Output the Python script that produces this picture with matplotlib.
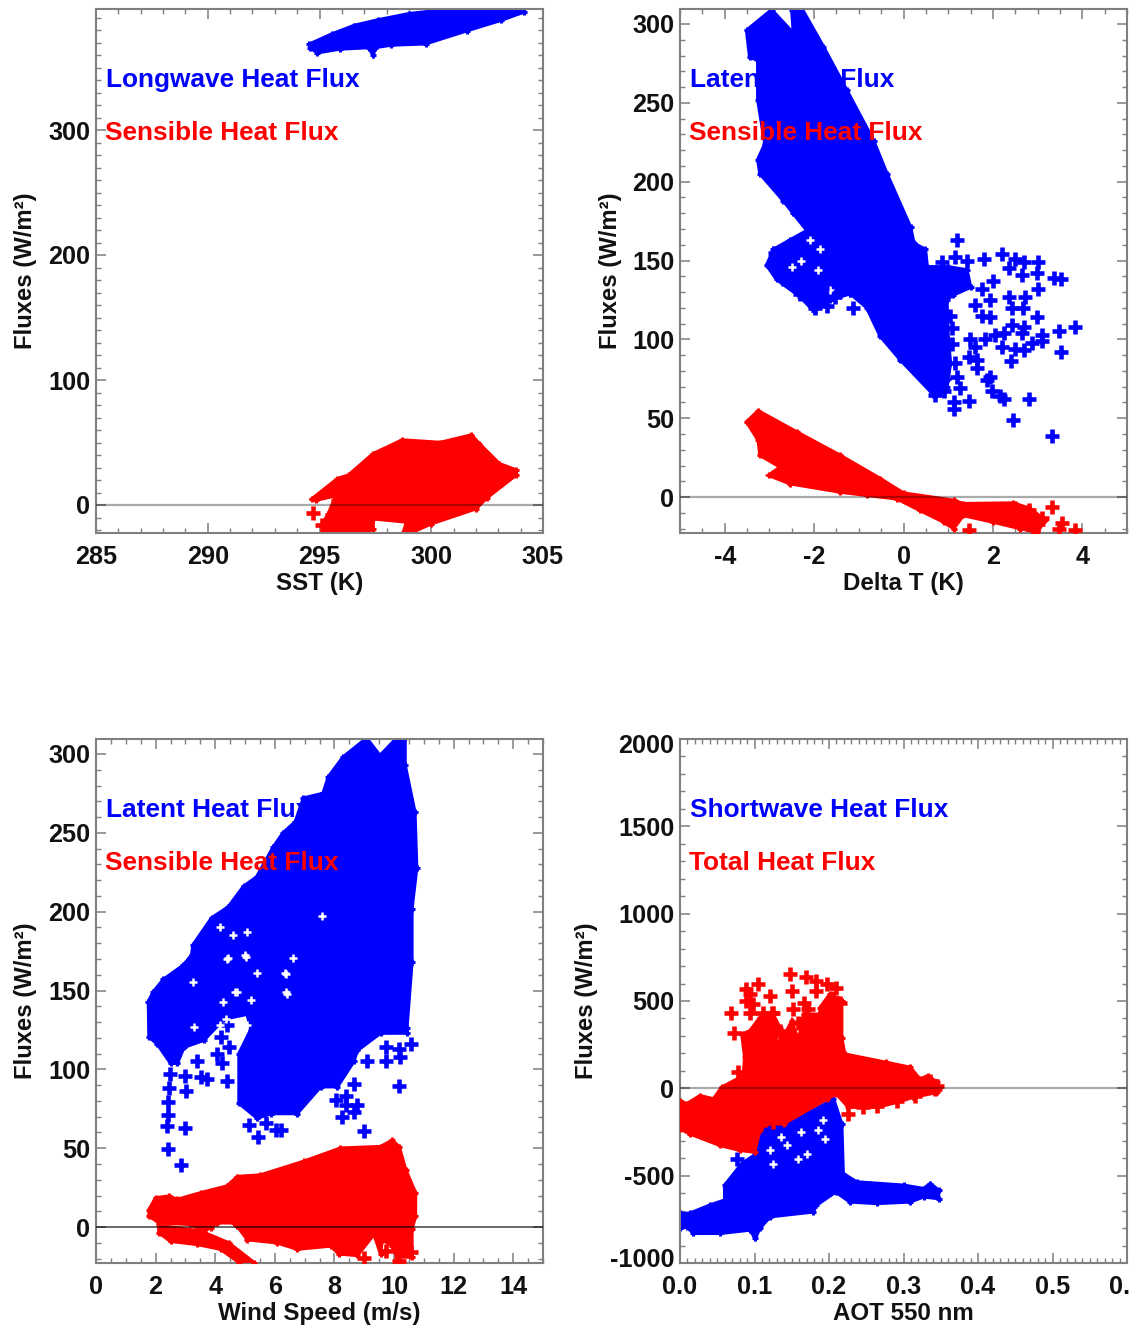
import matplotlib
matplotlib.use("Agg")
import matplotlib.pyplot as plt
from matplotlib.ticker import MultipleLocator
from matplotlib.transforms import ScaledTranslation

plt.rcParams['font.family'] = ['Liberation Sans', 'DejaVu Sans']
plt.rcParams['font.weight'] = 'bold'

# Panel 1: SST vs longwave and sensible flux
sst_lw_x = [294.54,295.56,296.55,297.6,299,300.5,304,304.16,303.1,301.6,299.75,298.2,297.5,297.4,297.2,295.9,294.9,294.57]
sst_lw_y = [368.6,376.8,383.6,388,393,396,398,394.5,387.7,379.5,369,368,366,360,366,364.8,361.8,366]
sst_sh_x = [294.67,295.8,296.3,297.4,298.7,300.4,301.8,302.15,303.05,303.8,303.8,302.5,302,300,299,298.75,298.9,297.4,297.4,297,295.3,295.1,295.4,295.65,295.9,294.85]
sst_sh_y = [5,21,24,41,52,50,56,49,33,28,24,6,-3,-15,-23,-22,-13.6,-11,-19,-23,-23,-16,-7,4,8,4]
sst_sh_stray_x = [294.7, 295.1]
sst_sh_stray_y = [-6.4, -16]

# Panel 2: delta T vs latent and sensible flux
dt_le_x = [-3.51,-2.95,-2.46,-2.5,-2.28,-1.79,-1.27,-.67,-.37,.16,.23,.49,.53,1.0,1.42,1.5,1.1,.97,1.0,1.05,1.0,.97,.67,-.07,-.52,-.82,-1.19,-1.49,-1.64,-2.16,-2.47,-2.69,-3.21,-3.26,-3.1,-3.26,-3.26,-3.44]
dt_le_y = [296,309,294,309,310,285.5,258,226,205,171,161,157,146,146,144,133,128,125,100,85,75,70,65,87,102,120,129,138,148,169,180,188,205,214,224,252,277,279]
dt_blob_x = [-3.06,-2.91,-2.54,-2.16,-1.64,-1.19,-1.64,-2.01,-2.31,-2.84]
dt_blob_y = [147,157,163,169,148,129,125,118,127,138]
dt_hole_x = [-2.09,-1.87,-1.91,-1.64,-2.3,-2.5]
dt_hole_y = [163,157,144,131,150,146]
dt_le_stray_x = [1.19,.87,1.16,1.42,1.79,2.2,2.5,2.69,3.02,2.35,2.65,2.99,3.36,3.52,2.01,1.75,3,2.35,2.72,1.6,1.94,2.43,2.67,1.75,1.94,2.99,2.43,2.69,3.84,3.47,2.05,2.24,2.65,3.1,1.49,1.83,1.6,2.2,2.5,2.69,2.87,3.1,3.52,1.46,1.64,2.4,1.64,1.16,1.94,1.87,1.98,2.16,2.24,2.8,1.46,1.12,1.12,2.46,3.32,1.04,1.08,1.08,1.19,1.27,.9,.71,-2.87,-2.95,-2.31,-1.98,-1.72,-1.53,-1.12,-1.83,-2.69]
dt_le_stray_y = [163,149,152,150,151,154,151,149,149,145,141,142,139,138,137,132,132,127,127,122,125,120,120,115,114,114,109,108,108,105,103,104,104,103,100,100,95,95,94,93,98,99,92,89,87,86,82,85,76,74,67,64,62,62,61,56,60,49,39,115,107,97,76,69,67,65,155,147,129,120,121,127,120,132,138]
dt_sh_x = [-3.51,-3.25,-2.39,-1.42,-.52,0,1.12,1.34,2.46,2.84,3.17,2.99,2.61,2.01,1.34,1.12,.9,.37,-.15,-.82,-1.42,-2.54,-3.02,-2.76,-3.21,-3.25]
dt_sh_y = [47.7,54.7,41.3,26.5,11.7,2.5,-2.1,-4.2,-3.8,-7.4,-14.8,-22.2,-20,-15.9,-11.7,-20,-15.9,-8.5,-1.1,1.1,3.2,8.5,13.8,19,26.5,36]
dt_sh_stray_x = [3.32,1.46,3.47,3.54,3.84,2.8,2.2,2.5,2.7,3,3.1,2.9]
dt_sh_stray_y = [-6.4,-21,-20,-16.5,-21,-8.5,-8,-7,-13,-17,-13,-20]

# Panel 3: wind speed vs latent and sensible flux
ws_le_x = [1.76,1.92,2.26,2.93,3.21,3.26,3.88,4.44,4.95,5.39,5.95,6.28,6.69,6.96,7.62,7.8,8.29,9.08,9.53,10.09,10.37,10.37,10.7,10.76,10.6,10.6,10.43,10.45,9.55,8.77,8.65,8.1,7.54,6.75,5.86,5.41,4.8,4.8,5.19,5.08,4.3,3.62,2.95,2.73,2.5,2.06,1.78]
ws_le_y = [143,149,157,166,172.5,179,196,203,216,222,241,250,257,272,275,285.5,298,310,299,310,310,293,263,227.5,202,168,126,123,123,112,105,89,89,72,72,69,78.5,110,125,135,132,118.5,114,104,104,116,120.6]
ws_hole_x = [3.27,4.27,4.16,4.44,5,4.6,5.39,6.62,6.34,6.37,7.57,4.16,5.06,5.06,4.72,4.4,5.02,6.36,6.42,4.68,5.19,4.35,3.29]
ws_hole_y = [155.6,143,128,170.6,172.5,185,161,170.6,161,149,197,190.5,187,128,149,170,171,160.6,148,149,144,132,127]
ws_le_stray_x = [2.39,2.4,2.42,2.44,2.47,2.41,2.84,2.97,3.03,3.38,3,3.51,3.73,4.4,4.24,4.07,4.46,4.18,4.4,5.13,5.45,5.69,6.03,6.2,8.26,8.65,8.77,8.38,8.38,8.04,8.99,10.17,9.72,9.72,10.17,10.2,10.56,9.1,8.65]
ws_le_stray_y = [64,71,79,88,97,49.5,39.6,62.7,86.5,105,96,95,94,92.6,104,110,114,120.6,128,65,57,66,61.7,61.7,70,73,77.5,83,77.5,80.6,61,89.7,114,105,113,107.6,116,105,91]
ws_sh_x = [1.78,2,2.45,2.73,3.51,4.4,4.74,5.52,6.98,8.2,9.55,9.94,10.17,10.39,10.72,10.72,10.6,10.6,10.1,9.94,9.6,9.55,9.33,8.77,8.15,7.87,6.75,6.08,5.08,4.74,4.63,4.07,3.85,3.62,3.17,2.11,1.78]
ws_sh_y = [11,18.5,19.6,17.5,21.7,26,32,33,41.7,50,51,55,51,36.4,21.7,7,-1.5,-19,-19,-12,-8,-17,-4.6,-18,-17,-12,-14,-10,-8,.6,2.7,2.7,-.4,-2.5,1.7,2.7,7]
ws_tail_x = [2.11,3.5,4.45,5.3,4.8,4.18,3.4,2.5,2.11]
ws_tail_y = [1,-2.5,-10,-22.5,-22.5,-14,-11,-9,-3.6]
ws_sh_stray_x = [9,9.72,10.56,10.17]
ws_sh_stray_y = [-19.5,-15,-16,-21.5]

# Panel 4: AOT vs shortwave and total flux
aot_sw_x = [0,.013,.04,.06,.06,.083,.103,.107,.121,.179,.206,.217,.219,.237,.3,.327,.336,.347,.347,.327,.309,.264,.228,.209,.183,.179,.121,.107,.101,.094,.054,.018,.009,0]
aot_sw_y = [-716,-716,-669,-640,-555,-431,-374,-222,-184,-127,-61,-203,-488,-536,-555,-574,-545,-583,-631,-621,-650,-659,-650,-593,-669,-707,-735,-802,-859,-811,-830,-830,-792,-802]
aot_hole_x = [.143,.163,.195,.192,.17,.125,.121,.159,.135,.185]
aot_hole_y = [-327,-251,-289,-184,-374,-431,-355,-403,-280,-240]
aot_sw_stray_x = [.076]
aot_sw_stray_y = [-403]
aot_tot_x = [0,.009,.027,.045,.056,.085,.087,.083,.094,.107,.125,.134,.125,.141,.15,.159,.166,.186,.19,.188,.201,.217,.217,.221,.277,.309,.322,.333,.345,.345,.313,.291,.264,.226,.21,.197,.139,.116,.107,.1,.081,.054,.013,0]
aot_tot_y = [-70,-89,-42,-61,6,72,177,310,329,405,424,348,234,310,386,272,424,424,253,462,538,500,291,196,148,120,53,72,34,-23,-51,-80,-108,-108,-32,-61,-203,-203,-241,-365,-355,-327,-260,-232]
aot_tot_stray_x = [.147,.169,.182,.197,.21,.151,.182,.105,.089,.121,.069,.072,.078,.166,.152,.125,.089,.094,.125,.226,.246,.264,.291,.315,.342,.336,.345,.094,.098,.112,.123,.119,.134,.159,.168,.179,.172,.206,.215,.197]
aot_tot_stray_y = [652,638,614,595,572,560,556,595,566,528,433,319,91,490,452,433,500,433,-194,-146,-108,-99,-70,-42,-4,44,15,538,481,433,433,376,329,376,395,357,452,519,490,471]

xlabels = ['SST (K)', 'Delta T (K)', 'Wind Speed (m/s)', 'AOT 550 nm']
ylabel = 'Fluxes (W/m²)'

W, H = 1129, 1329
fig = plt.figure(figsize=(W/100, H/100), dpi=100)
BLUE, RED = '#0000ff', '#ff0000'
GRAY = '#7f7f7f'
FS = 18.2
LS = 18.9

def make_axes(l, t, r, b, xlim, ylim, xmaj, xmin, ymaj, ymin, xlabel, ylab_px, lab1, lab2, xfmt, zero_alpha=0.33, zero_lw=1.6):
    ax = fig.add_axes([l/W, 1-b/H, (r-l)/W, (b-t)/H])
    ax.set_xlim(xlim); ax.set_ylim(ylim)
    ax.xaxis.set_major_locator(MultipleLocator(xmaj)); ax.xaxis.set_minor_locator(MultipleLocator(xmin))
    ax.yaxis.set_major_locator(MultipleLocator(ymaj)); ax.yaxis.set_minor_locator(MultipleLocator(ymin))
    ax.xaxis.set_major_formatter(lambda v, p: xfmt.format(v))
    ax.yaxis.set_major_formatter(lambda v, p: f'{v:g}')
    ax.tick_params(which='major', direction='in', top=True, right=True, length=7.5, width=1.1, color=GRAY, labelsize=FS, pad=9, labelcolor='#111111')
    ax.tick_params(which='minor', direction='in', top=True, right=True, length=3.8, width=1.0, color=GRAY)
    ax.tick_params(axis='y', which='major', pad=4)
    for s in ax.spines.values():
        s.set_color(GRAY); s.set_linewidth(1.5)
    ax.set_xlabel(xlabel, fontsize=17.4, fontweight='bold', labelpad=1.5, color='#111111')
    fig.text(ylab_px/W, 1-(t+b)/2/H, ylabel, rotation=90, ha='center', va='center', fontsize=FS-1.0, fontweight='bold', color='#111111')
    ax.text(10/(r-l), 1-71/(b-t), lab1, color=BLUE, transform=ax.transAxes, fontsize=LS, fontweight='bold', va='center', zorder=6)
    ax.text(9/(r-l), 1-124/(b-t), lab2, color=RED, transform=ax.transAxes, fontsize=LS, fontweight='bold', va='center', zorder=6)
    ax.axhline(0, color='black', alpha=zero_alpha, lw=zero_lw, zorder=5)
    return ax

def cloud(ax, x, y, color, sx=None, sy=None, z=2):
    ax.fill(x, y, color=color, lw=2.5, zorder=z)
    ax.plot(x, y, '+', color=color, ms=4.5, mew=2.2, zorder=z)
    if sx is not None:
        ax.plot(sx, sy, '+', color=color, ms=10, mew=3.3, zorder=z)

def gaps(ax, x, y, z=2.5):
    ax.plot(x, y, '+', color='white', ms=6, mew=1.8, zorder=z)

a1 = make_axes(96, 9, 543, 533, (285, 305), (-22.4, 396.8), 5, 1, 100, 10, xlabels[0], 26, 'Longwave Heat Flux', 'Sensible Heat Flux', '{:g}')
cloud(a1, sst_lw_x, sst_lw_y, BLUE)
cloud(a1, sst_sh_x, sst_sh_y, RED, sst_sh_stray_x, sst_sh_stray_y)

a2 = make_axes(680, 9, 1127, 533, (-5, 5), (-22.8, 309.5), 2, .5, 50, 10, xlabels[1], 610, 'Latent Heat Flux', 'Sensible Heat Flux', '{:g}')
cloud(a2, dt_le_x, dt_le_y, BLUE)
cloud(a2, dt_blob_x, dt_blob_y, BLUE)
gaps(a2, dt_hole_x, dt_hole_y)
a2.plot(dt_le_stray_x, dt_le_stray_y, '+', color=BLUE, ms=10, mew=3.3, zorder=3)
cloud(a2, dt_sh_x, dt_sh_y, RED, dt_sh_stray_x, dt_sh_stray_y, z=4)

a3 = make_axes(96, 739, 543, 1263, (0, 15), (-22.8, 309.5), 2, .5, 50, 10, xlabels[2], 26, 'Latent Heat Flux', 'Sensible Heat Flux', '{:g}', zero_alpha=0.75, zero_lw=1.1)
cloud(a3, ws_le_x, ws_le_y, BLUE, ws_le_stray_x, ws_le_stray_y)
gaps(a3, ws_hole_x, ws_hole_y)
cloud(a3, ws_sh_x, ws_sh_y, RED, ws_sh_stray_x, ws_sh_stray_y, z=4)
cloud(a3, ws_tail_x, ws_tail_y, RED, z=4)

a4 = make_axes(680, 739, 1127, 1263, (0, .6), (-1000, 2000), .1, .01, 500, 100, xlabels[3], 587, 'Shortwave Heat Flux', 'Total Heat Flux', '{:.1f}')
cloud(a4, aot_sw_x, aot_sw_y, BLUE, aot_sw_stray_x, aot_sw_stray_y)
gaps(a4, aot_hole_x, aot_hole_y)
cloud(a4, aot_tot_x, aot_tot_y, RED, aot_tot_stray_x, aot_tot_stray_y, z=4)

fig.canvas.draw()
for lab in a4.get_yticklabels():
    if lab.get_text() == '2000':
        lab.set_transform(lab.get_transform() + ScaledTranslation(0, -3.5/72, fig.dpi_scale_trans))
    if lab.get_text() == '-1000':
        lab.set_transform(lab.get_transform() + ScaledTranslation(0, 4/72, fig.dpi_scale_trans))

fig.savefig('out.png', dpi=100)
